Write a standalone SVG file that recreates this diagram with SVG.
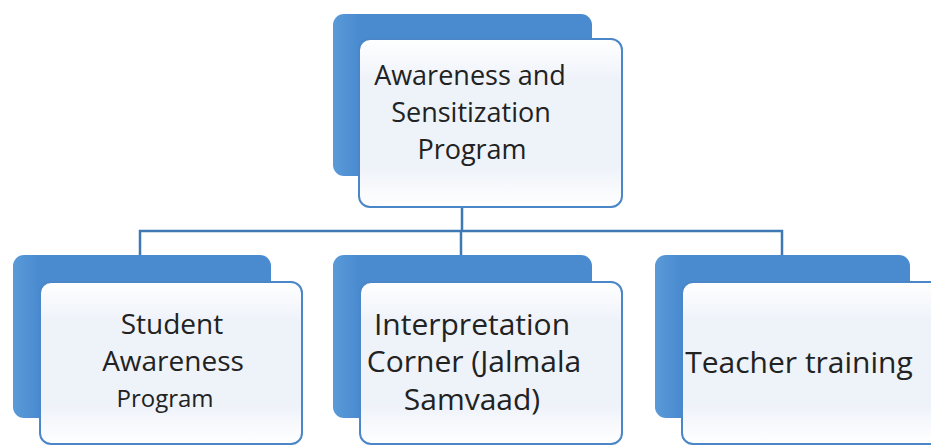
<svg xmlns="http://www.w3.org/2000/svg" width="931" height="445" viewBox="0 0 931 445">
<defs>
<linearGradient id="bk" x1="0" y1="0" x2="1" y2="0">
<stop offset="0" stop-color="#5a9ad8"/>
<stop offset="0.1" stop-color="#4a8bd0"/>
<stop offset="1" stop-color="#4a8bd0"/>
</linearGradient>
<linearGradient id="fr" x1="0" y1="0" x2="0" y2="1">
<stop offset="0" stop-color="#ffffff"/>
<stop offset="0.25" stop-color="#eef2f9"/>
<stop offset="0.75" stop-color="#eef2f9"/>
<stop offset="1" stop-color="#ffffff"/>
</linearGradient>
<style>
.back{fill:url(#bk);}
.front{fill:url(#fr);stroke:#4a86c8;stroke-width:2;}
.t{font-family:"Open Sans","Noto Sans","Liberation Sans",sans-serif;fill:#222;text-anchor:middle;}
.conn{stroke:#3f79b4;stroke-width:2.5;fill:none;}
</style>
</defs>
<rect width="931" height="445" fill="#ffffff"/>
<g id="connectors">
<path class="conn" d="M462 207 V231 M140 255 V231 H782 V255 M461 231 V255"/>
</g>
<g id="top">
<rect class="back" x="333" y="14" width="259" height="162" rx="11"/>
<rect class="front" x="359" y="39" width="263" height="168" rx="11"/>
<text class="t" font-size="27"><tspan x="470" y="85">Awareness and</tspan><tspan x="471" y="122">Sensitization</tspan><tspan x="472" y="159">Program</tspan></text>
</g>
<g id="student">
<rect class="back" x="13" y="255" width="258" height="163" rx="11"/>
<rect class="front" x="40" y="282" width="262" height="162" rx="11"/>
<text class="t" font-size="28"><tspan x="172" y="334">Student</tspan><tspan x="173" y="371">Awareness</tspan></text>
<text class="t" font-size="24" x="165" y="407">Program</text>
</g>
<g id="interpretation">
<rect class="back" x="333" y="255" width="259" height="163" rx="11"/>
<rect class="front" x="360" y="282" width="262" height="162" rx="11"/>
<text class="t" font-size="30"><tspan x="472" y="335">Interpretation</tspan><tspan x="474" y="372">Corner (Jalmala</tspan><tspan x="472" y="410">Samvaad)</tspan></text>
</g>
<g id="teacher">
<rect class="back" x="655" y="255" width="255" height="163" rx="11"/>
<rect class="front" x="682" y="282" width="262" height="162" rx="11"/>
<text class="t" font-size="30" x="799" y="373">Teacher training</text>
</g>
</svg>
